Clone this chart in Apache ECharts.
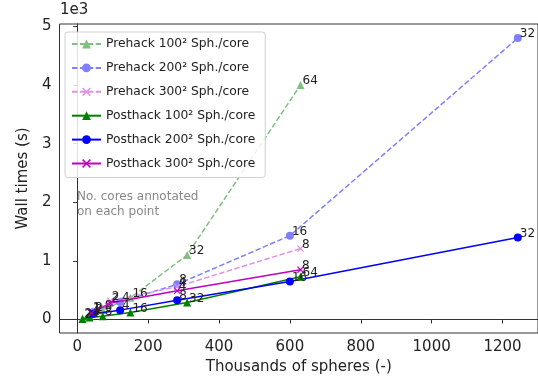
<!DOCTYPE html>
<html>
<head>
<meta charset="utf-8">
<script src="https://cdn.jsdelivr.net/npm/echarts@6/dist/echarts.min.js"></script>
<style>
html,body{margin:0;padding:0;background:#fff;}
#c{width:538px;height:385px;}
</style>
</head>
<body>
<div id="c"></div>
<script>
// ---- data (x: thousands of spheres, y: wall time in seconds, cores: annotation) ----
const seriesNames = [
  'Prehack 100\u00B2 Sph./core',
  'Prehack 200\u00B2 Sph./core',
  'Prehack 300\u00B2 Sph./core',
  'Posthack 100\u00B2 Sph./core',
  'Posthack 200\u00B2 Sph./core',
  'Posthack 300\u00B2 Sph./core'
];
const pre100_x = [15, 35, 72, 150, 310, 630];
const pre100_y = [20, 70, 160, 370, 1100, 4000];
const pre100_cores = [2, 4, 8, 16, 32, 64];

const pre200_x = [45, 121, 282, 600, 1243];
const pre200_y = [130, 300, 600, 1430, 4800];
const pre200_cores = [2, 4, 8, 16, 32];

const pre300_x = [40, 93, 282, 630];
const pre300_y = [130, 320, 560, 1210];
const pre300_cores = [1, 2, 4, 8];

const post100_x = [15, 35, 72, 150, 310, 630];
const post100_y = [10, 35, 55, 120, 290, 730];
const post100_cores = [2, 4, 8, 16, 32, 64];

const post200_x = [45, 121, 282, 600, 1243];
const post200_y = [100, 160, 330, 650, 1400];
const post200_cores = [2, 4, 8, 16, 32];

const post300_x = [40, 93, 282, 630];
const post300_y = [110, 280, 490, 850];
const post300_cores = [1, 2, 4, 8];

const xTicks = [0, 200, 400, 600, 800, 1000, 1200];
const yTicks = [0, 1000, 2000, 3000, 4000, 5000];

function pts(xs, ys, cs) { return xs.map((x, i) => [x, ys[i], cs[i]]); }

const X_SYM = 'path://M1.2,0 L5,3.8 L8.8,0 L10,1.2 L6.2,5 L10,8.8 L8.8,10 L5,6.2 L1.2,10 L0,8.8 L3.8,5 L0,1.2 Z';
const FONT = 'DejaVu Sans';

function mk(name, data, color, dashed, symbol, size) {
  return {
    name: name,
    type: 'line',
    data: data,
    symbol: symbol,
    symbolSize: size,
    lineStyle: { color: color, width: 1.5, type: dashed ? [5.5, 2.4] : 'solid' },
    itemStyle: { color: color },
    label: {
      show: true,
      position: 'right',
      distance: -2,
      offset: [0, -4],
      formatter: p => String(p.value[2]),
      fontFamily: FONT,
      fontSize: 12,
      color: '#222'
    },
    emphasis: { disabled: true },
    z: dashed ? 2 : 3
  };
}

const chart = echarts.init(document.getElementById('c'), null, { renderer: 'canvas' });
chart.setOption({
  animation: false,
  backgroundColor: '#fff',
  textStyle: { fontFamily: FONT },
  grid: { left: 59.5, right: -1, top: 24, bottom: 52, show: true, borderColor: '#333', borderWidth: 1, containLabel: false },
  xAxis: {
    type: 'value', min: -50, max: 1300,
    name: 'Thousands of spheres (-)', nameLocation: 'middle', nameGap: 27,
    nameTextStyle: { fontFamily: FONT, fontSize: 15, color: '#222' },
    axisLine: { show: true, lineStyle: { color: '#333' } },
    axisTick: { show: true, length: 4, lineStyle: { color: '#333' }, customValues: xTicks },
    axisLabel: { fontFamily: FONT, fontSize: 15, color: '#222', margin: 7, customValues: xTicks, formatter: v => String(v) },
    splitLine: { show: false }
  },
  yAxis: {
    type: 'value', min: -230, max: 5040,
    name: 'Wall times (s)', nameLocation: 'middle', nameGap: 29,
    nameTextStyle: { fontFamily: FONT, fontSize: 15, color: '#222' },
    axisLine: { show: true, lineStyle: { color: '#333' } },
    axisTick: { show: true, length: 4, lineStyle: { color: '#333' }, customValues: yTicks },
    axisLabel: { fontFamily: FONT, fontSize: 15, color: '#222', margin: 8, customValues: yTicks, formatter: v => String(v / 1000) },
    splitLine: { show: false }
  },
  legend: {
    orient: 'vertical', left: 65, top: 32,
    padding: [6, 10, 8, 6],
    itemWidth: 29, itemHeight: 11, itemGap: 11.9,
    backgroundColor: 'rgba(255,255,255,0.85)',
    borderColor: '#d0d0d0', borderWidth: 1, borderRadius: 3,
    textStyle: { fontFamily: FONT, fontSize: 12.3, color: '#222' },
    data: seriesNames
  },
  graphic: [
    { type: 'text', left: 60, top: 3, style: { text: '1e3', font: '15px "DejaVu Sans"', fill: '#222' } },
    { type: 'text', left: 77, top: 189, style: { text: 'No. cores annotated\non each point', font: '12px "DejaVu Sans"', fill: '#888', lineHeight: 15 } }
  ],
  series: [
    mk(seriesNames[0], pts(pre100_x, pre100_y, pre100_cores), '#80c080', true, 'triangle', 8),
    mk(seriesNames[1], pts(pre200_x, pre200_y, pre200_cores), '#8080ff', true, 'circle', 8),
    mk(seriesNames[2], pts(pre300_x, pre300_y, pre300_cores), '#e090e0', true, X_SYM, 7),
    mk(seriesNames[3], pts(post100_x, post100_y, post100_cores), '#008000', false, 'triangle', 8),
    mk(seriesNames[4], pts(post200_x, post200_y, post200_cores), '#0000ff', false, 'circle', 8),
    mk(seriesNames[5], pts(post300_x, post300_y, post300_cores), '#bf00bf', false, X_SYM, 7)
  ]
});
</script>
</body>
</html>
